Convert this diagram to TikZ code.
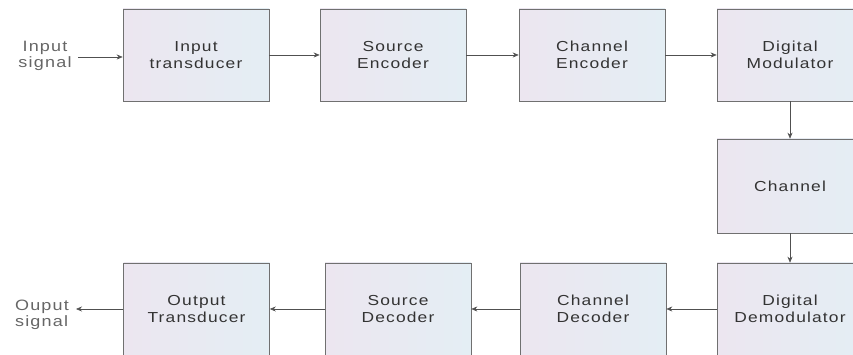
\documentclass[tikz,border=0pt]{standalone}
\usepackage{fontspec}
\setmainfont{Liberation Sans}
\newfontfamily\blockfont[FakeStretch=1.2,LetterSpace=8]{Liberation Sans}
\usetikzlibrary{arrows.meta}
\definecolor{boxtext}{HTML}{333333}
\definecolor{boxline}{HTML}{707070}
\definecolor{boxfillL}{HTML}{ECE6F0}
\definecolor{boxfillR}{HTML}{E4EEF4}
\definecolor{wirecol}{HTML}{505050}
\definecolor{labcol}{HTML}{666666}
\begin{document}
\begin{tikzpicture}[x=1pt,y=1pt,
  blockbox/.style={draw=boxline, line width=0.6pt, left color=boxfillL, right color=boxfillR,
    minimum width=146pt, minimum height=92pt, align=center, text=boxtext,
    font=\blockfont\fontsize{14.5}{17}\selectfont},
  wire/.style={draw=wirecol, line width=0.6pt, -{Stealth[length=6pt,width=5pt]}},
  sidelabel/.style={text=labcol, inner sep=1pt, font=\blockfont\fontsize{15}{16}\selectfont}]
\useasboundingbox (0,0) rectangle (853,355);
\clip (0,0) rectangle (853,355);

% transmitter chain
\node[blockbox] (itr) at (196,300) {Input\\transducer};
\node[blockbox] (senc) at (393,300) {Source\\Encoder};
\node[blockbox] (cenc) at (592,300) {Channel\\Encoder};
\node[blockbox] (mod) at (790,300) {Digital\\Modulator};

% channel
\node[blockbox, minimum height=94pt] (chan) at (790,169) {Channel};

% receiver chain
\node[blockbox] (demod) at (790,46) {Digital\\Demodulator};
\node[blockbox] (cdec) at (593,46) {Channel\\Decoder};
\node[blockbox] (sdec) at (398,46) {Source\\Decoder};
\node[blockbox] (otr) at (196.5,46) {Output\\Transducer};

% signal labels
\node[sidelabel, align=center] (insig) at (45,299) {Input\\signal};
\node[sidelabel, align=left] (outsig) at (42,40) {Ouput\\signal};

% connections
\coordinate (inA) at (78,298);
\coordinate (outA) at (76,46);
\draw[wire] (inA) -- (inA -| itr.west);
\draw[wire] (itr) -- (senc);
\draw[wire] (senc) -- (cenc);
\draw[wire] (cenc) -- (mod);
\draw[wire] (mod) -- (chan);
\draw[wire] (chan) -- (demod);
\draw[wire] (demod) -- (cdec);
\draw[wire] (cdec) -- (sdec);
\draw[wire] (sdec) -- (otr);
\draw[wire] (otr.west) -- (outA);
\end{tikzpicture}
\end{document}
